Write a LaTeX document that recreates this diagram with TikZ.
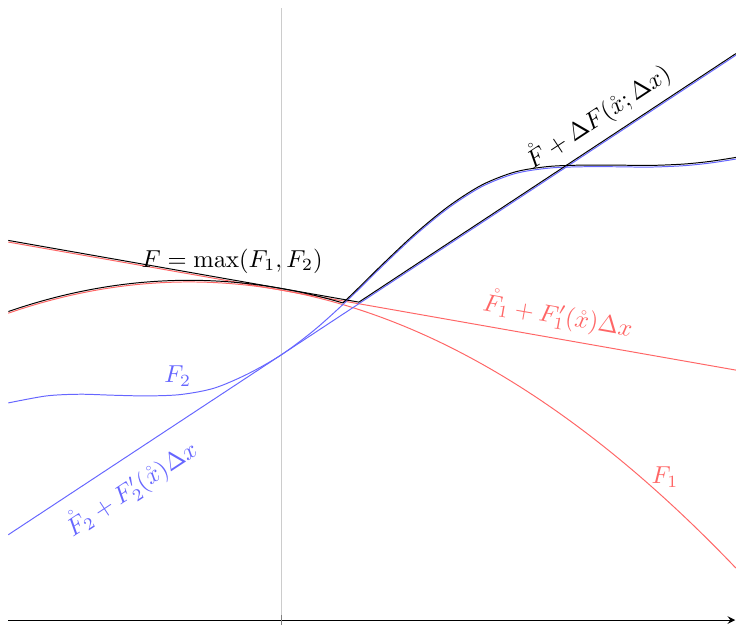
\documentclass[tikz,border=0pt]{standalone}
\usepackage{amsmath,amssymb,amsfonts}
\usepackage{tikz}
\usetikzlibrary{calc, arrows.meta}

\newcommand{\curveFtwo}{plot[smooth] coordinates {(-4.07,3.24) (-3.5,3.345) (-3.0,3.37) (-2.5,3.355) (-2.0,3.345) (-1.5,3.365) (-1.0,3.46) (-0.5,3.671) (0,3.955) (0.5,4.33) (1.0,4.78) (1.5,5.27) (2.0,5.74) (2.5,6.15) (3.0,6.47) (3.5,6.665) (4.0,6.745) (4.5,6.765) (5.0,6.765) (5.5,6.76) (6.0,6.78) (6.4,6.82) (6.79,6.88)}}
\tikzset{declare function={Fone(\x)=4.925-0.176*\x-0.0641*\x*\x;}}

\begin{document}
\begin{tikzpicture}[scale=0.96,
    fone/.style={red!60},
    ftwo/.style={blue!60},
    fmax/.style={yshift=0.7pt}]
    \useasboundingbox (-4.194,-0.06) rectangle (6.791,9.254);
    \draw[black!20] (0,-0.2) -- (0,9.13); %x0
    \draw[->,>=stealth] (-4.07,0) -- (6.78,0); %x軸
    \draw[black!50] (0,-2pt) -- (0,2pt);

    % F1
    \draw[fone] plot[domain=-4.07:6.79,samples=120] (\x,{Fone(\x)});
    \node[fone] (labFone) at (5.73,2.13) {$F_1$};
    \draw[fone] (-4.07,5.641) -- node[pos=0.75,sloped,above] (labTone) {$\mathring{F}_1+F_1'(\mathring{x})\Delta x$} (6.79,3.730);

    % F2
    \draw[ftwo] \curveFtwo;
    \node[ftwo] (labFtwo) at (-1.54,3.64) {$F_2$};
    \draw[ftwo] (-4.07,1.273) -- node[pos=0.147,sloped,below,outer sep=2.5pt] (labTtwo) {$\mathring{F}_2+F_2'(\mathring{x})\Delta x$} (6.79,8.430);

    % F = max(F1,F2)
    \begin{scope}[fmax]
    \begin{scope}
        \clip \curveFtwo -- (6.79,9.3) -- (-4.07,9.3) -- cycle;
        \draw plot[domain=-4.07:6.79,samples=120] (\x,{Fone(\x)});
    \end{scope}
    \begin{scope}
        \clip plot[domain=-4.07:6.79,samples=120] (\x,{Fone(\x)}) -- (6.79,9.3) -- (-4.07,9.3) -- cycle;
        \draw \curveFtwo;
    \end{scope}
    \draw (-4.07,5.641) -- (1.162,4.720) -- node[pos=0.668,sloped,above] (labdF) {$\mathring{F}+\Delta F(\mathring{x};\Delta x)$} (6.79,8.430);
    \end{scope}
    \node (labF) at (-0.73,5.36) {$F=\max(F_1,F_2)$};
\end{tikzpicture}
\end{document}
